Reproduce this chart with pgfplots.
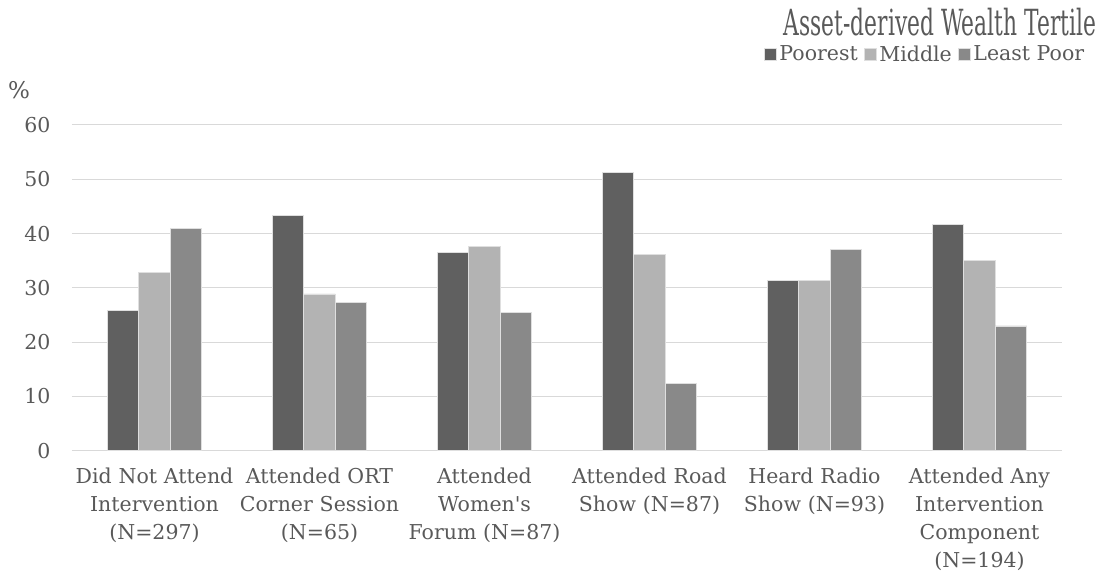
\documentclass[border=0pt]{standalone}
\usepackage{pgfplots}
\pgfplotsset{compat=1.18}
\usepackage{fontspec}
\setmainfont{DejaVu Serif}
\definecolor{cpoor}{HTML}{606060}
\definecolor{cmid}{HTML}{B3B3B3}
\definecolor{cleast}{HTML}{898989}
\definecolor{ctext}{HTML}{595959}
\definecolor{cgrid}{HTML}{D9D9D9}
\begin{document}
\begin{tikzpicture}
\path[use as bounding box] (0pt,0pt) rectangle (1106pt,581pt);
\begin{axis}[
  at={(72pt,130.3pt)}, anchor=south west,
  scale only axis, width=990pt, height=325.7pt,
  xmin=-0.5, xmax=5.5, ymin=0, ymax=60,
  ybar=0pt, bar width=31.5pt,
  xtick={0,1,2,3,4,5},
  xticklabels={{Did Not Attend\\Intervention\\(N=297)},{Attended ORT\\Corner Session\\(N=65)},{Attended\\Women\textquotesingle s\\Forum (N=87)},{Attended Road\\Show (N=87)},{Heard Radio\\Show (N=93)},{Attended Any\\Intervention\\Component\\(N=194)}},
  ytick={0,10,20,30,40,50,60},
  axis line style={draw=none}, tick style={draw=none},
  ymajorgrids, grid style={cgrid, line width=1pt},
  tick label style={font=\fontsize{20.5}{28.3}\selectfont, text=ctext},
  xticklabel style={align=center, text width=165pt, yshift=-9pt},
  yticklabel style={xshift=-18pt},
  /pgf/number format/assume math mode=true,
  legend style={at={(axis description cs:1,1)}, anchor=center, xshift=-137pt, yshift=71pt, draw=none, fill=none,
    font=\fontsize{20.5}{24}\selectfont, text=ctext, inner sep=0pt,
    /tikz/every odd column/.append style={column sep=1pt},
    /tikz/every even column/.append style={column sep=4pt}},
  legend columns=3,
  legend image code/.code={\fill[#1] (0pt,-6pt) rectangle (12pt,6pt);},
]
\addplot[fill=cpoor, draw=gray!25, line width=0.6pt] coordinates {(0,25.8) (1,43.4) (2,36.5) (3,51.2) (4,31.4) (5,41.7)};
\addplot[fill=cmid, draw=gray!25, line width=0.6pt] coordinates {(0,32.9) (1,28.9) (2,37.7) (3,36.2) (4,31.4) (5,35.1)};
\addplot[fill=cleast, draw=gray!25, line width=0.6pt] coordinates {(0,41.0) (1,27.3) (2,25.5) (3,12.4) (4,37.1) (5,23.0)};
\legend{Poorest,Middle,Least Poor}
\end{axis}
\node[text=ctext, font=\fontsize{36}{40}\selectfont, inner sep=0pt] at (940pt,559pt) {\scalebox{0.605}[1]{Asset-derived Wealth Tertile}};
\node[text=ctext, font=\fontsize{23}{26}\selectfont] at (19pt,491pt) {\%};
\end{tikzpicture}
\end{document}
